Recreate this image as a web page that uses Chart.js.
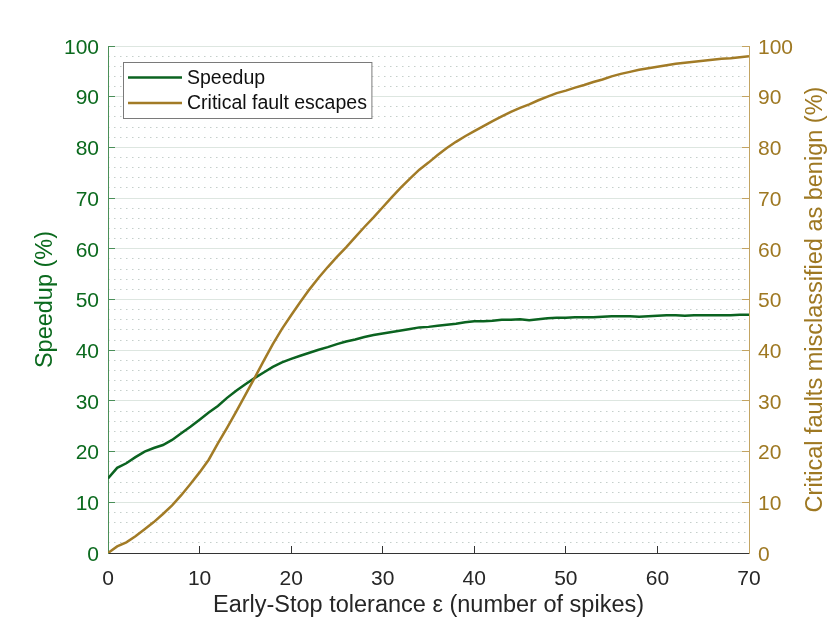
<!DOCTYPE html>
<html>
<head>
<meta charset="utf-8">
<script src="https://cdn.jsdelivr.net/npm/chart.js@4.4.1/dist/chart.umd.min.js"></script>
<style>
html,body{margin:0;padding:0;background:#ffffff;}
#wrap{width:830px;height:623px;position:relative;}
</style>
</head>
<body>
<div id="wrap"><canvas id="c"></canvas></div>
<script>
// ---- data ----
const epsilon = [0,1,2,3,4,5,6,7,8,9,10,11,12,13,14,15,16,17,18,19,20,21,22,23,24,25,26,27,28,29,30,31,32,33,34,35,36,37,38,39,40,41,42,43,44,45,46,47,48,49,50,51,52,53,54,55,56,57,58,59,60,61,62,63,64,65,66,67,68,69,70];
const speedup = [14.7,16.8,17.7,18.9,20.0,20.7,21.3,22.3,23.6,24.9,26.3,27.7,29.0,30.6,32.0,33.3,34.5,35.6,36.7,37.6,38.3,38.9,39.5,40.1,40.6,41.2,41.7,42.1,42.6,43.0,43.3,43.6,43.9,44.2,44.5,44.6,44.8,45.0,45.2,45.5,45.7,45.7,45.8,46.0,46.0,46.1,45.9,46.1,46.3,46.4,46.4,46.5,46.5,46.5,46.6,46.7,46.7,46.7,46.6,46.7,46.8,46.9,46.9,46.8,46.9,46.9,46.9,46.9,46.9,47.0,47.0];
const escapes = [0,1.3,2.1,3.3,4.7,6.1,7.7,9.4,11.4,13.6,15.9,18.4,21.6,24.7,27.9,31.2,34.5,37.9,41.2,44.2,46.9,49.5,52.0,54.3,56.4,58.4,60.3,62.3,64.3,66.2,68.2,70.2,72.1,73.9,75.6,77.0,78.5,79.9,81.1,82.2,83.2,84.2,85.2,86.1,87.0,87.8,88.5,89.3,90.0,90.7,91.2,91.8,92.3,92.9,93.4,94.0,94.5,94.9,95.3,95.6,95.9,96.2,96.5,96.7,96.9,97.1,97.3,97.5,97.6,97.8,98.0];
const seriesNames = ['Speedup', 'Critical fault escapes'];
const xTickValues = [0,10,20,30,40,50,60,70];
const yTickValues = [0,10,20,30,40,50,60,70,80,90,100];
const xTitle = 'Early-Stop tolerance \u03b5 (number of spikes)';
const yLeftTitle = 'Speedup (%)';
const yRightTitle = 'Critical faults misclassified as benign (%)';

// ---- style ----
const FONT = '"Liberation Sans", Arial, Helvetica, sans-serif';
const GREEN = '#0b6320';
const GREEN_TXT = '#0b6a1e';
const GREEN_AXIS = '#4a8f58';
const GOLD = '#a27b26';
const GOLD_TXT = '#9e7822';
const GOLD_AXIS = '#c3a462';

const toPts = (xs, ys) => xs.map((x, i) => ({x: x, y: ys[i]}));

const rightTitlePlugin = {
  id: 'rightTitle',
  afterDraw(chart) {
    const ctx = chart.ctx;
    const area = chart.chartArea;
    ctx.save();
    ctx.translate(816, (area.top + area.bottom) / 2);
    ctx.rotate(-Math.PI / 2);
    ctx.textAlign = 'center';
    ctx.textBaseline = 'middle';
    ctx.fillStyle = GOLD_TXT;
    ctx.font = '23.5px ' + FONT;
    ctx.fillText(yRightTitle, 0, 0);
    ctx.restore();
  }
};

const legendBoxPlugin = {
  id: 'legendBox',
  afterDatasetsDraw(chart) {
    const ctx = chart.ctx;
    const ds = chart.data.datasets;
    ctx.save();
    ctx.font = '19.5px ' + FONT;
    let maxW = 0;
    ds.forEach(d => { maxW = Math.max(maxW, ctx.measureText(d.label).width); });
    const left = 123.5, top = 62.5, rowH = 25.5;
    const textX = 187;
    const w = textX - left + maxW + 5;
    const h = 56;
    ctx.fillStyle = '#ffffff';
    ctx.fillRect(left, top, w, h);
    ctx.strokeStyle = '#7a7a7a';
    ctx.lineWidth = 1;
    ctx.strokeRect(left, top, w, h);
    ds.forEach((d, i) => {
      const y = 77.5 + i * rowH;
      ctx.strokeStyle = d.borderColor;
      ctx.lineWidth = 2.5;
      ctx.beginPath();
      ctx.moveTo(128, y);
      ctx.lineTo(182, y);
      ctx.stroke();
      ctx.fillStyle = '#111111';
      ctx.textAlign = 'left';
      ctx.textBaseline = 'middle';
      ctx.fillText(d.label, textX, y + 1);
    });
    ctx.restore();
  }
};

new Chart(document.getElementById('c'), {
  type: 'line',
  data: {
    datasets: [
      {label: seriesNames[0], data: toPts(epsilon, speedup), yAxisID: 'y', borderColor: GREEN, backgroundColor: GREEN, borderWidth: 2.5, pointRadius: 0, tension: 0, order: 2},
      {label: seriesNames[1], data: toPts(epsilon, escapes), yAxisID: 'y2', borderColor: GOLD, backgroundColor: GOLD, borderWidth: 2.5, pointRadius: 0, tension: 0, order: 1}
    ]
  },
  options: {
    responsive: true,
    maintainAspectRatio: false,
    animation: false,
    layout: {padding: {top: 46, right: 0, bottom: 0, left: 0}},
    plugins: {legend: {display: false}, tooltip: {enabled: false}},
    scales: {
      x: {
        type: 'linear', position: 'bottom', min: 0, max: 70,
        afterBuildTicks: s => { s.ticks = xTickValues.map(v => ({value: v})); },
        afterFit: s => { s.height = 70; },
        ticks: {color: '#262626', font: {family: FONT, size: 21}, padding: 21, maxRotation: 0, autoSkip: false},
        grid: {drawOnChartArea: false, drawTicks: true, tickLength: -7, tickColor: '#333333', tickWidth: 1},
        border: {display: true, color: '#333333', width: 1},
        title: {display: true, text: xTitle, color: '#262626', font: {family: FONT, size: 23.5}, padding: {top: 0, bottom: 3}}
      },
      yMinor: {
        type: 'linear', position: 'left', min: 0, max: 100, weight: -1,
        afterBuildTicks: s => { const t = []; for (let v = 0; v <= 100; v += 2) t.push({value: v}); s.ticks = t; },
        afterFit: s => { s.width = 0; },
        ticks: {display: false},
        grid: {drawTicks: false, lineWidth: 1, color: c => (c.tick && c.tick.value % 10 === 0) ? 'rgba(0,0,0,0)' : '#c5cfcb', borderDash: [1.5, 4.5]},
        border: {display: false, dash: [1.5, 4.5]}
      },
      y: {
        type: 'linear', position: 'left', min: 0, max: 100, weight: 0,
        afterBuildTicks: s => { s.ticks = yTickValues.map(v => ({value: v})); },
        afterFit: s => { s.width = 108; },
        ticks: {color: GREEN_TXT, font: {family: FONT, size: 21}, padding: 16, labelOffset: 2},
        grid: {color: '#dde6e0', lineWidth: 1, drawTicks: true, tickLength: -7, tickColor: GREEN_AXIS, tickWidth: 1},
        border: {display: true, color: GREEN_AXIS, width: 1},
        title: {display: true, text: yLeftTitle, color: GREEN_TXT, font: {family: FONT, size: 23.5}, padding: {top: 31, bottom: 0}}
      },
      y2: {
        type: 'linear', position: 'right', min: 0, max: 100,
        afterBuildTicks: s => { s.ticks = yTickValues.map(v => ({value: v})); },
        afterFit: s => { s.width = 81; },
        ticks: {color: GOLD_TXT, font: {family: FONT, size: 21}, padding: 16, labelOffset: 2},
        grid: {drawOnChartArea: false, drawTicks: true, tickLength: -7, tickColor: GOLD_AXIS, tickWidth: 1},
        border: {display: true, color: GOLD_AXIS, width: 1}
      }
    }
  },
  plugins: [legendBoxPlugin, rightTitlePlugin]
});
</script>
</body>
</html>
